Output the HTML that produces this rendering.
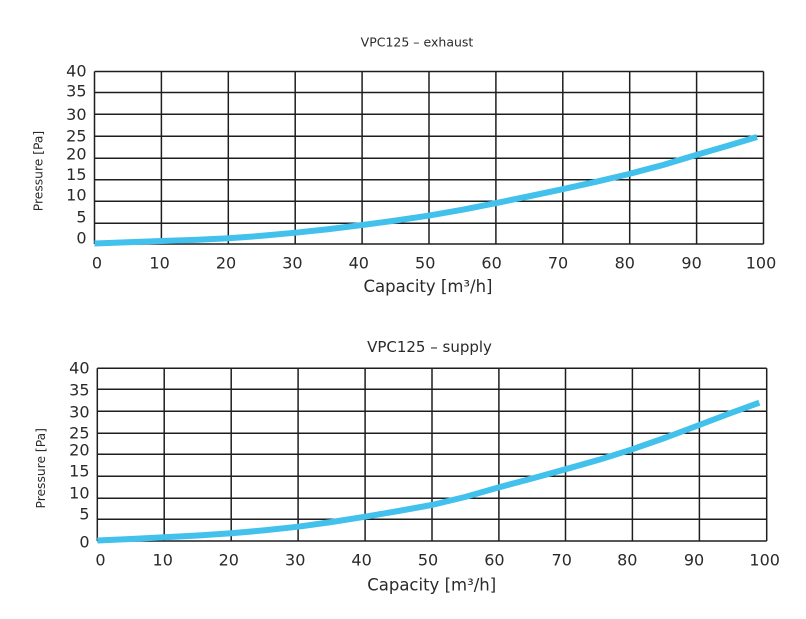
<!DOCTYPE html>
<html>
<head>
<meta charset="utf-8">
<style>
  html, body { margin: 0; padding: 0; background: #ffffff; }
  svg { display: block; }
  text { font-family: "DejaVu Sans", "Liberation Sans", sans-serif; fill: #2a2a2a; }
</style>
</head>
<body>
<svg width="806" height="619" viewBox="0 0 806 619" xmlns="http://www.w3.org/2000/svg">
  <rect width="806" height="619" fill="#ffffff"/>

  <!-- ===== TOP CHART ===== -->
  <text x="417" y="46.7" font-size="12.5" text-anchor="middle">VPC125 – exhaust</text>

  <g stroke="#1e1e1e" stroke-width="1.5" fill="none">
    <!-- horizontal grid -->
    <line x1="94.5" y1="71.5" x2="763.5" y2="71.5"/>
    <line x1="94.5" y1="92.5" x2="763.5" y2="92.5"/>
    <line x1="94.5" y1="114.3" x2="763.5" y2="114.3"/>
    <line x1="94.5" y1="136.3" x2="763.5" y2="136.3"/>
    <line x1="94.5" y1="158.3" x2="763.5" y2="158.3"/>
    <line x1="94.5" y1="179.7" x2="763.5" y2="179.7"/>
    <line x1="94.5" y1="201.3" x2="763.5" y2="201.3"/>
    <line x1="94.5" y1="223.3" x2="763.5" y2="223.3"/>
    <line x1="94.5" y1="244" x2="763.5" y2="244"/>
    <!-- vertical grid -->
    <line x1="94.5" y1="71.5" x2="94.5" y2="244"/>
    <line x1="161.4" y1="71.5" x2="161.4" y2="244"/>
    <line x1="228.3" y1="71.5" x2="228.3" y2="244"/>
    <line x1="295.2" y1="71.5" x2="295.2" y2="244"/>
    <line x1="362.1" y1="71.5" x2="362.1" y2="244"/>
    <line x1="429" y1="71.5" x2="429" y2="244"/>
    <line x1="495.9" y1="71.5" x2="495.9" y2="244"/>
    <line x1="562.8" y1="71.5" x2="562.8" y2="244"/>
    <line x1="629.7" y1="71.5" x2="629.7" y2="244"/>
    <line x1="696.6" y1="71.5" x2="696.6" y2="244"/>
    <line x1="763.5" y1="71.5" x2="763.5" y2="244"/>
  </g>

  <g font-size="16" text-anchor="end">
    <text x="86.5" y="76.7">40</text>
    <text x="86.5" y="96.7">35</text>
    <text x="86.5" y="120">30</text>
    <text x="86.5" y="141.7">25</text>
    <text x="86.5" y="159.3">20</text>
    <text x="86.5" y="180">15</text>
    <text x="86.5" y="200.7">10</text>
    <text x="86.5" y="222.7">5</text>
    <text x="86.5" y="243.3">0</text>
  </g>

  <g font-size="16" text-anchor="middle">
    <text x="97" y="268.3">0</text>
    <text x="159.6" y="268.3">10</text>
    <text x="226" y="268.3">20</text>
    <text x="292.4" y="268.3">30</text>
    <text x="358.8" y="268.3">40</text>
    <text x="425.2" y="268.3">50</text>
    <text x="491.6" y="268.3">60</text>
    <text x="558" y="268.3">70</text>
    <text x="624.8" y="268.3">80</text>
    <text x="691.6" y="268.3">90</text>
    <text x="761" y="268.3">100</text>
  </g>

  <text x="428" y="292" font-size="16.5" text-anchor="middle">Capacity [m³/h]</text>
  <text transform="translate(42.5,171) rotate(-90)" font-size="12.3" text-anchor="middle">Pressure [Pa]</text>

  <polyline fill="none" stroke="#42c1ec" stroke-width="6" stroke-linejoin="round" stroke-linecap="butt"
    points="94.5,243.5 128,242.3 161.3,241 195,239.9 228.7,238.3 262,235.8 295.5,232.7 329,229.1 362.3,225 395,220.6 428.3,215.7 462,209.8 495,203.3 528,196.5 562,189.3 596,181.8 629,174 663,165 696,155 727,146 757,137"/>

  <!-- ===== BOTTOM CHART ===== -->
  <text x="429.5" y="352" font-size="15" text-anchor="middle">VPC125 – supply</text>

  <g stroke="#1e1e1e" stroke-width="1.5" fill="none">
    <line x1="97.3" y1="368.3" x2="766.7" y2="368.3"/>
    <line x1="97.3" y1="389.3" x2="766.7" y2="389.3"/>
    <line x1="97.3" y1="411.3" x2="766.7" y2="411.3"/>
    <line x1="97.3" y1="433.3" x2="766.7" y2="433.3"/>
    <line x1="97.3" y1="454.3" x2="766.7" y2="454.3"/>
    <line x1="97.3" y1="476.3" x2="766.7" y2="476.3"/>
    <line x1="97.3" y1="498.3" x2="766.7" y2="498.3"/>
    <line x1="97.3" y1="519.3" x2="766.7" y2="519.3"/>
    <line x1="97.3" y1="541" x2="766.7" y2="541"/>
    <line x1="97.3" y1="368.3" x2="97.3" y2="541"/>
    <line x1="164.2" y1="368.3" x2="164.2" y2="541"/>
    <line x1="231.2" y1="368.3" x2="231.2" y2="541"/>
    <line x1="298.1" y1="368.3" x2="298.1" y2="541"/>
    <line x1="365.1" y1="368.3" x2="365.1" y2="541"/>
    <line x1="432" y1="368.3" x2="432" y2="541"/>
    <line x1="498.9" y1="368.3" x2="498.9" y2="541"/>
    <line x1="565.5" y1="368.3" x2="565.5" y2="541"/>
    <line x1="632.4" y1="368.3" x2="632.4" y2="541"/>
    <line x1="699.4" y1="368.3" x2="699.4" y2="541"/>
    <line x1="766.7" y1="368.3" x2="766.7" y2="541"/>
  </g>

  <g font-size="16" text-anchor="end">
    <text x="89.5" y="373.3">40</text>
    <text x="89.5" y="395.7">35</text>
    <text x="89.5" y="417.3">30</text>
    <text x="89.5" y="438.7">25</text>
    <text x="89.5" y="455.3">20</text>
    <text x="89.5" y="476.7">15</text>
    <text x="89.5" y="498.7">10</text>
    <text x="89.5" y="519.3">5</text>
    <text x="89.5" y="547.3">0</text>
  </g>

  <g font-size="16" text-anchor="middle">
    <text x="100.5" y="565.7">0</text>
    <text x="162.7" y="565.7">10</text>
    <text x="228.8" y="565.7">20</text>
    <text x="295.2" y="565.7">30</text>
    <text x="361.6" y="565.7">40</text>
    <text x="428" y="565.7">50</text>
    <text x="494.4" y="565.7">60</text>
    <text x="561.7" y="565.7">70</text>
    <text x="627.3" y="565.7">80</text>
    <text x="694" y="565.7">90</text>
    <text x="764.7" y="565.7">100</text>
  </g>

  <text x="431.7" y="590.3" font-size="16.5" text-anchor="middle">Capacity [m³/h]</text>
  <text transform="translate(45,468.3) rotate(-90)" font-size="12.3" text-anchor="middle">Pressure [Pa]</text>

  <polyline fill="none" stroke="#42c1ec" stroke-width="6" stroke-linejoin="round" stroke-linecap="butt"
    points="97.3,540.5 130.8,539 164.3,537.3 197.8,535.5 231.3,533.3 264.8,530.3 298.3,526.7 331.8,522 365.3,516.7 398.5,511 431.7,505 465,497 498.3,487.5 532,478.5 565.3,469.3 599,459.8 632.3,449.3 666,437.5 699.3,425 729.5,413.5 759.3,402.7"/>
</svg>
</body>
</html>
